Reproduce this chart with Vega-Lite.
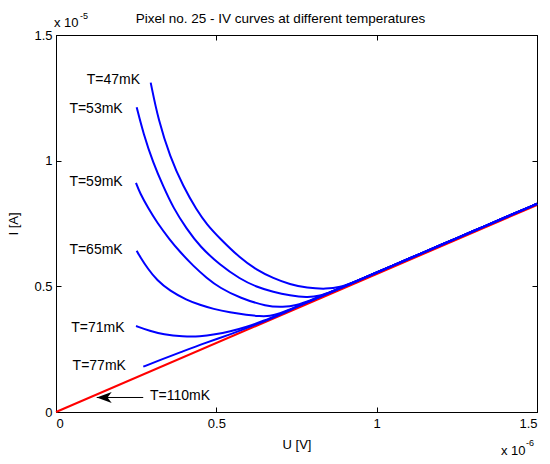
{
  "$schema": "https://vega.github.io/schema/vega-lite/v6.json",
  "width": 481,
  "height": 377,
  "autosize": {"type": "none"},
  "padding": {"left": 56, "top": 35, "right": 13, "bottom": 52},
  "background": "white",
  "title": {
    "text": "Pixel no. 25 - IV curves at different temperatures",
    "font": "Liberation Sans",
    "fontSize": 13.5,
    "fontWeight": "normal",
    "color": "#000000",
    "anchor": "middle",
    "dx": -16,
    "baseline": "alphabetic",
    "offset": -24
  },
  "config": {
    "view": {"stroke": "#000000", "strokeWidth": 1},
    "axis": {
      "grid": false,
      "domainColor": "#000000",
      "tickColor": "#000000",
      "labelColor": "#000000",
      "titleColor": "#000000",
      "labelFont": "Liberation Sans",
      "titleFont": "Liberation Sans",
      "labelFontSize": 13,
      "titleFontSize": 13,
      "titleFontWeight": "normal",
      "tickSize": -5,
      "labelPadding": 10
    },
    "text": {"font": "Liberation Sans", "color": "#000000"}
  },
  "datasets": {
    "red": [
      {"U": 0, "I": 0},
      {"U": 1.5, "I": 0.8235}
    ],
    "blue": [
      {"T": "47", "U": 0.2953, "I": 1.3104},
      {"T": "47", "U": 0.3190, "I": 1.1620},
      {"T": "47", "U": 0.3555, "I": 1.0159},
      {"T": "47", "U": 0.3969, "I": 0.8965},
      {"T": "47", "U": 0.4387, "I": 0.8038},
      {"T": "47", "U": 0.4699, "I": 0.7470},
      {"T": "47", "U": 0.5114, "I": 0.6900},
      {"T": "47", "U": 0.5738, "I": 0.6128},
      {"T": "47", "U": 0.6258, "I": 0.5651},
      {"T": "47", "U": 0.6776, "I": 0.5320},
      {"T": "47", "U": 0.7297, "I": 0.5074},
      {"T": "47", "U": 0.7817, "I": 0.4934},
      {"T": "47", "U": 0.8441, "I": 0.4890},
      {"T": "47", "U": 0.8856, "I": 0.4960},
      {"T": "47", "U": 0.9300, "I": 0.5170},
      {"T": "47", "U": 1.0, "I": 0.5550},
      {"T": "47", "U": 1.1, "I": 0.6097},
      {"T": "47", "U": 1.2, "I": 0.6644},
      {"T": "47", "U": 1.3, "I": 0.7191},
      {"T": "47", "U": 1.4, "I": 0.7738},
      {"T": "47", "U": 1.5, "I": 0.8285},
      {"T": "53", "U": 0.2516, "I": 1.2125},
      {"T": "53", "U": 0.2722, "I": 1.1090},
      {"T": "53", "U": 0.3034, "I": 0.9897},
      {"T": "53", "U": 0.3346, "I": 0.8973},
      {"T": "53", "U": 0.3658, "I": 0.8118},
      {"T": "53", "U": 0.4075, "I": 0.7282},
      {"T": "53", "U": 0.4490, "I": 0.6578},
      {"T": "53", "U": 0.5114, "I": 0.5849},
      {"T": "53", "U": 0.5738, "I": 0.5292},
      {"T": "53", "U": 0.6258, "I": 0.4974},
      {"T": "53", "U": 0.6776, "I": 0.4775},
      {"T": "53", "U": 0.7297, "I": 0.4636},
      {"T": "53", "U": 0.7817, "I": 0.4556},
      {"T": "53", "U": 0.8232, "I": 0.4610},
      {"T": "53", "U": 0.8600, "I": 0.4800},
      {"T": "53", "U": 0.9, "I": 0.5003},
      {"T": "53", "U": 1.0, "I": 0.5550},
      {"T": "53", "U": 1.1, "I": 0.6097},
      {"T": "53", "U": 1.2, "I": 0.6644},
      {"T": "53", "U": 1.3, "I": 0.7191},
      {"T": "53", "U": 1.4, "I": 0.7738},
      {"T": "53", "U": 1.5, "I": 0.8285},
      {"T": "59", "U": 0.2495, "I": 0.9112},
      {"T": "59", "U": 0.2619, "I": 0.8703},
      {"T": "59", "U": 0.2878, "I": 0.8106},
      {"T": "59", "U": 0.3140, "I": 0.7560},
      {"T": "59", "U": 0.3555, "I": 0.6840},
      {"T": "59", "U": 0.3867, "I": 0.6370},
      {"T": "59", "U": 0.4281, "I": 0.5810},
      {"T": "59", "U": 0.4699, "I": 0.5332},
      {"T": "59", "U": 0.5114, "I": 0.4934},
      {"T": "59", "U": 0.5738, "I": 0.4536},
      {"T": "59", "U": 0.6570, "I": 0.4198},
      {"T": "59", "U": 0.7088, "I": 0.4178},
      {"T": "59", "U": 0.7484, "I": 0.4238},
      {"T": "59", "U": 0.7920, "I": 0.4430},
      {"T": "59", "U": 0.8500, "I": 0.4740},
      {"T": "59", "U": 0.9, "I": 0.5003},
      {"T": "59", "U": 1.0, "I": 0.5550},
      {"T": "59", "U": 1.1, "I": 0.6097},
      {"T": "59", "U": 1.2, "I": 0.6644},
      {"T": "59", "U": 1.3, "I": 0.7191},
      {"T": "59", "U": 1.4, "I": 0.7738},
      {"T": "59", "U": 1.5, "I": 0.8285},
      {"T": "65", "U": 0.2516, "I": 0.6419},
      {"T": "65", "U": 0.2619, "I": 0.6180},
      {"T": "65", "U": 0.2869, "I": 0.5690},
      {"T": "65", "U": 0.3140, "I": 0.5253},
      {"T": "65", "U": 0.3555, "I": 0.4815},
      {"T": "65", "U": 0.4075, "I": 0.4457},
      {"T": "65", "U": 0.4490, "I": 0.4258},
      {"T": "65", "U": 0.4905, "I": 0.4100},
      {"T": "65", "U": 0.5426, "I": 0.3960},
      {"T": "65", "U": 0.5946, "I": 0.3860},
      {"T": "65", "U": 0.6361, "I": 0.3810},
      {"T": "65", "U": 0.6673, "I": 0.3810},
      {"T": "65", "U": 0.6985, "I": 0.3920},
      {"T": "65", "U": 0.7297, "I": 0.4080},
      {"T": "65", "U": 0.75, "I": 0.4183},
      {"T": "65", "U": 0.8, "I": 0.4456},
      {"T": "65", "U": 0.9, "I": 0.5003},
      {"T": "65", "U": 1.0, "I": 0.5550},
      {"T": "65", "U": 1.1, "I": 0.6097},
      {"T": "65", "U": 1.2, "I": 0.6644},
      {"T": "65", "U": 1.3, "I": 0.7191},
      {"T": "65", "U": 1.4, "I": 0.7738},
      {"T": "65", "U": 1.5, "I": 0.8285},
      {"T": "71", "U": 0.2495, "I": 0.3422},
      {"T": "71", "U": 0.2931, "I": 0.3223},
      {"T": "71", "U": 0.3346, "I": 0.3084},
      {"T": "71", "U": 0.3960, "I": 0.3004},
      {"T": "71", "U": 0.4490, "I": 0.3004},
      {"T": "71", "U": 0.4958, "I": 0.3084},
      {"T": "71", "U": 0.5426, "I": 0.3203},
      {"T": "71", "U": 0.5946, "I": 0.3382},
      {"T": "71", "U": 0.6464, "I": 0.3621},
      {"T": "71", "U": 0.7, "I": 0.3910},
      {"T": "71", "U": 0.75, "I": 0.4183},
      {"T": "71", "U": 0.8, "I": 0.4456},
      {"T": "71", "U": 0.9, "I": 0.5003},
      {"T": "71", "U": 1.0, "I": 0.5550},
      {"T": "71", "U": 1.1, "I": 0.6097},
      {"T": "71", "U": 1.2, "I": 0.6644},
      {"T": "71", "U": 1.3, "I": 0.7191},
      {"T": "71", "U": 1.4, "I": 0.7738},
      {"T": "71", "U": 1.5, "I": 0.8285},
      {"T": "77", "U": 0.2722, "I": 0.1803},
      {"T": "77", "U": 0.3243, "I": 0.2069},
      {"T": "77", "U": 0.3867, "I": 0.2368},
      {"T": "77", "U": 0.4646, "I": 0.2746},
      {"T": "77", "U": 0.5426, "I": 0.3084},
      {"T": "77", "U": 0.6205, "I": 0.3462},
      {"T": "77", "U": 0.6985, "I": 0.3860},
      {"T": "77", "U": 0.75, "I": 0.4183},
      {"T": "77", "U": 0.8, "I": 0.4456},
      {"T": "77", "U": 0.9, "I": 0.5003},
      {"T": "77", "U": 1.0, "I": 0.5550},
      {"T": "77", "U": 1.1, "I": 0.6097},
      {"T": "77", "U": 1.2, "I": 0.6644},
      {"T": "77", "U": 1.3, "I": 0.7191},
      {"T": "77", "U": 1.4, "I": 0.7738},
      {"T": "77", "U": 1.5, "I": 0.8285}
    ],
    "labels": [
      {"label": "T=47mK", "U": 0.262, "I": 1.319},
      {"label": "T=53mK", "U": 0.208, "I": 1.207},
      {"label": "T=59mK", "U": 0.208, "I": 0.916},
      {"label": "T=65mK", "U": 0.208, "I": 0.645},
      {"label": "T=71mK", "U": 0.214, "I": 0.335},
      {"label": "T=77mK", "U": 0.218, "I": 0.183}
    ],
    "label110": [
      {"label": "T=110mK", "U": 0.293, "I": 0.065}
    ],
    "arrow": [
      {"U": 0.127, "I": 0.0577},
      {"U": 0.272, "I": 0.0577}
    ],
    "arrowhead": [
      {"U": 0.127, "I": 0.0577}
    ],
    "expY": [
      {"U": 0, "I": 1.5, "base": "x 10", "exp": "-5"}
    ],
    "expX": [
      {"U": 1.5, "I": 0, "base": "x 10", "exp": "-6"}
    ]
  },
  "layer": [
    {
      "data": {"name": "red"},
      "mark": {"type": "line", "color": "#ff0000", "strokeWidth": 2},
      "encoding": {
        "x": {"field": "U", "type": "quantitative", "scale": {"domain": [0, 1.5], "nice": false, "zero": false},
              "axis": {"orient": "bottom", "values": [0, 0.5, 1, 1.5], "format": "~g", "title": "U [V]", "titlePadding": 8, "labelPadding": 10}},
        "y": {"field": "I", "type": "quantitative", "scale": {"domain": [0, 1.5], "nice": false, "zero": false},
              "axis": {"orient": "left", "values": [0, 0.5, 1, 1.5], "format": "~g", "title": "I [A]", "titlePadding": 13, "labelPadding": 9}}
      }
    },
    {
      "data": {"name": "red"},
      "mark": {"type": "line", "strokeOpacity": 0},
      "encoding": {
        "x": {"field": "U", "type": "quantitative", "axis": {"orient": "top", "values": [0, 0.5, 1, 1.5], "labels": false, "title": null}},
        "y": {"field": "I", "type": "quantitative", "axis": {"orient": "right", "values": [0, 0.5, 1, 1.5], "labels": false, "title": null}}
      }
    },
    {
      "data": {"name": "blue"},
      "mark": {"type": "line", "color": "#0000ff", "strokeWidth": 2, "interpolate": "basis"},
      "encoding": {
        "x": {"field": "U", "type": "quantitative", "axis": null},
        "y": {"field": "I", "type": "quantitative", "axis": null},
        "detail": {"field": "T", "type": "nominal"}
      }
    },
    {
      "data": {"name": "labels"},
      "mark": {"type": "text", "align": "right", "baseline": "middle", "fontSize": 14},
      "encoding": {
        "x": {"field": "U", "type": "quantitative", "axis": null},
        "y": {"field": "I", "type": "quantitative", "axis": null},
        "text": {"field": "label"}
      }
    },
    {
      "data": {"name": "label110"},
      "mark": {"type": "text", "align": "left", "baseline": "middle", "fontSize": 14},
      "encoding": {
        "x": {"field": "U", "type": "quantitative", "axis": null},
        "y": {"field": "I", "type": "quantitative", "axis": null},
        "text": {"field": "label"}
      }
    },
    {
      "data": {"name": "arrow"},
      "mark": {"type": "line", "color": "#000000", "strokeWidth": 1},
      "encoding": {
        "x": {"field": "U", "type": "quantitative", "axis": null},
        "y": {"field": "I", "type": "quantitative", "axis": null}
      }
    },
    {
      "data": {"name": "arrowhead"},
      "mark": {"type": "point", "shape": "M0,0L1,-0.36L0.72,0L1,0.36Z", "size": 900, "filled": true, "color": "#000000", "opacity": 1},
      "encoding": {
        "x": {"field": "U", "type": "quantitative", "axis": null},
        "y": {"field": "I", "type": "quantitative", "axis": null}
      }
    },
    {
      "data": {"name": "expY"},
      "mark": {"type": "text", "align": "left", "baseline": "alphabetic", "fontSize": 13, "dx": -2, "dy": -8},
      "encoding": {
        "x": {"field": "U", "type": "quantitative", "axis": null},
        "y": {"field": "I", "type": "quantitative", "axis": null},
        "text": {"field": "base"}
      }
    },
    {
      "data": {"name": "expY"},
      "mark": {"type": "text", "align": "left", "baseline": "alphabetic", "fontSize": 9, "dx": 24, "dy": -16},
      "encoding": {
        "x": {"field": "U", "type": "quantitative", "axis": null},
        "y": {"field": "I", "type": "quantitative", "axis": null},
        "text": {"field": "exp"}
      }
    },
    {
      "data": {"name": "expX"},
      "mark": {"type": "text", "align": "left", "baseline": "alphabetic", "fontSize": 13, "dx": -36, "dy": 43},
      "encoding": {
        "x": {"field": "U", "type": "quantitative", "axis": null},
        "y": {"field": "I", "type": "quantitative", "axis": null},
        "text": {"field": "base"}
      }
    },
    {
      "data": {"name": "expX"},
      "mark": {"type": "text", "align": "left", "baseline": "alphabetic", "fontSize": 9, "dx": -11, "dy": 34},
      "encoding": {
        "x": {"field": "U", "type": "quantitative", "axis": null},
        "y": {"field": "I", "type": "quantitative", "axis": null},
        "text": {"field": "exp"}
      }
    }
  ],
  "resolve": {"axis": {"x": "independent", "y": "independent"}}
}
